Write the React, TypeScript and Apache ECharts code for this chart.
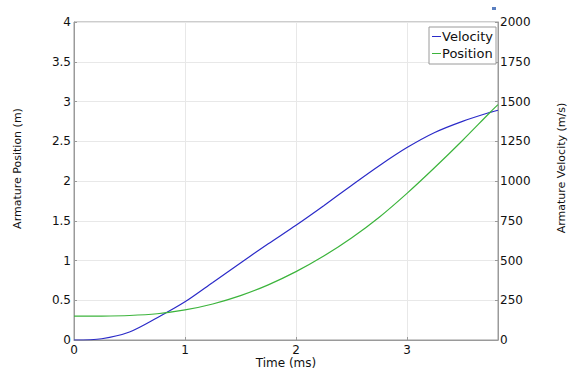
import React, { useEffect, useRef } from "react";
import * as echarts from "echarts";

const timeMs = [0, 0.25, 0.5, 0.75, 1, 1.25, 1.5, 1.75, 2, 2.25, 2.5, 2.75, 3, 3.25, 3.5, 3.75, 3.82];
const velocity = [0, 8, 50, 140, 240, 362, 485, 605, 722, 845, 972, 1096, 1210, 1305, 1375, 1432, 1445];
const position = [0.3, 0.301, 0.308, 0.33, 0.378, 0.453, 0.558, 0.694, 0.86, 1.056, 1.283, 1.545, 1.845, 2.17, 2.51, 2.865, 2.96];
const xTicks = [0, 1, 2, 3];
const leftTicks = [0, 0.5, 1, 1.5, 2, 2.5, 3, 3.5, 4];
const rightTicks = [0, 250, 500, 750, 1000, 1250, 1500, 1750, 2000];

const FONT = "'DejaVu Sans', Verdana, sans-serif";

export default function App() {
  const ref = useRef<HTMLDivElement>(null);
  useEffect(() => {
    if (!ref.current) return;
    const chart = echarts.init(ref.current, null, { renderer: "svg" });
    const axisCommon = {
      axisLine: { show: true, lineStyle: { color: "#9a9a9a", width: 1 } },
      axisTick: { show: true, inside: true, length: 3, lineStyle: { color: "#9a9a9a" } },
    };
    chart.setOption({
      animation: false,
      backgroundColor: "#ffffff",
      textStyle: { fontFamily: FONT },
      grid: { left: 74, right: 70, top: 22, bottom: 37, show: true, borderColor: "#9a9a9a", borderWidth: 1 },
      legend: {
        data: ["Velocity", "Position"],
        orient: "vertical",
        right: 72,
        top: 27,
        backgroundColor: "#ffffff",
        borderColor: "#9a9a9a",
        borderWidth: 1,
        borderRadius: 0,
        padding: [3, 3, 4, 3],
        itemGap: 4,
        itemWidth: 9,
        itemHeight: 1,
        icon: "rect",
        textStyle: { fontFamily: FONT, fontSize: 13, color: "#111", padding: [0, 0, 0, -4] },
      },
      xAxis: {
        type: "value",
        min: 0,
        max: 3.82,
        interval: 1,
        ...axisCommon,
        axisLabel: {
          fontFamily: FONT,
          fontSize: 12,
          color: "#111",
          margin: 4,
          showMaxLabel: false,
          formatter: (v: number) => (xTicks.includes(v) ? String(v) : ""),
        },
        splitLine: { show: true, lineStyle: { color: "#e8e8e8", width: 1 } },
      },
      yAxis: [
        {
          type: "value",
          min: 0,
          max: 4,
          interval: 0.5,
          ...axisCommon,
          axisLabel: {
            fontFamily: FONT,
            fontSize: 12,
            color: "#111",
            margin: 3,
            formatter: (v: number) => (leftTicks.includes(v) ? String(v) : ""),
          },
          splitLine: { show: true, lineStyle: { color: "#e8e8e8", width: 1 } },
        },
        {
          type: "value",
          min: 0,
          max: 2000,
          interval: 250,
          position: "right",
          ...axisCommon,
          axisLabel: {
            fontFamily: FONT,
            fontSize: 12,
            color: "#111",
            margin: 2,
            formatter: (v: number) => (rightTicks.includes(v) ? String(v) : ""),
          },
          splitLine: { show: false },
        },
      ],
      graphic: [
        {
          type: "text",
          x: 17.5,
          y: 168.5,
          rotation: Math.PI / 2,
          style: {
            text: "Armature Position (m)",
            font: `11px ${FONT}`,
            fill: "#111",
            textAlign: "center",
            textVerticalAlign: "middle",
          },
        },
        {
          type: "text",
          x: 561,
          y: 168,
          rotation: Math.PI / 2,
          style: {
            text: "Armature Velocity (m/s)",
            font: `11px ${FONT}`,
            fill: "#111",
            textAlign: "center",
            textVerticalAlign: "middle",
          },
        },
        {
          type: "text",
          x: 286,
          y: 363,
          style: {
            text: "Time (ms)",
            font: `12px ${FONT}`,
            fill: "#111",
            textAlign: "center",
            textVerticalAlign: "middle",
          },
        },
        {
          type: "rect",
          shape: { x: 492, y: 7, width: 4, height: 3 },
          style: { fill: "#5a7fc0" },
        },
      ],
      series: [
        {
          name: "Velocity",
          type: "line",
          yAxisIndex: 1,
          smooth: 0.3,
          showSymbol: false,
          color: "#2b2bc8",
          lineStyle: { width: 1.2, color: "#2b2bc8" },
          data: timeMs.map((t, i) => [t, velocity[i]]),
        },
        {
          name: "Position",
          type: "line",
          yAxisIndex: 0,
          smooth: 0.3,
          showSymbol: false,
          color: "#3cb43c",
          lineStyle: { width: 1.2, color: "#3cb43c" },
          data: timeMs.map((t, i) => [t, position[i]]),
        },
      ],
    });
    return () => chart.dispose();
  }, []);
  return <div ref={ref} style={{ width: 568, height: 377, position: "absolute", left: 0, top: 0 }} />;
}
